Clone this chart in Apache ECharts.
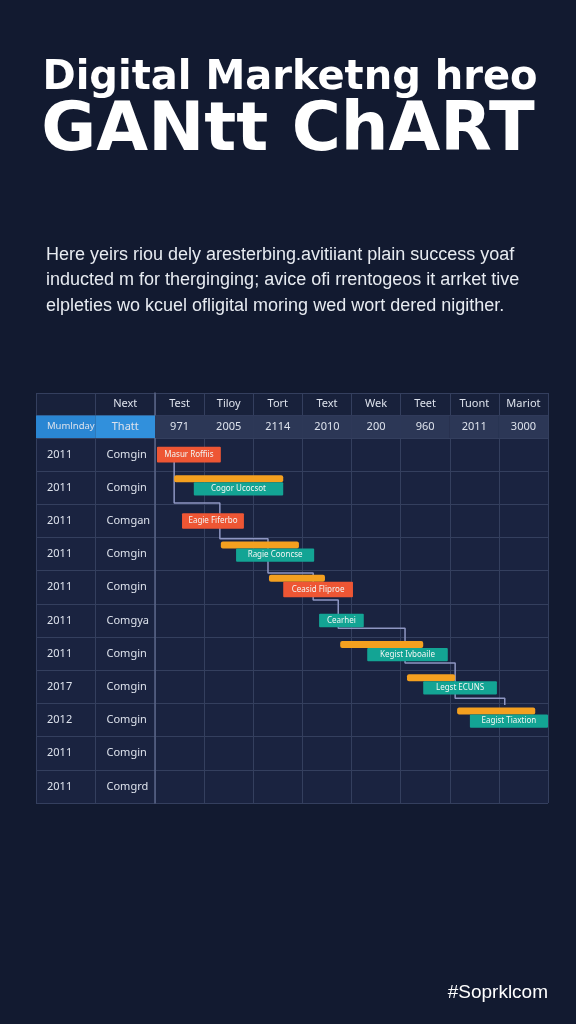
<!DOCTYPE html>
<html>
<head>
<meta charset="utf-8">
<title>Digital Marketing Gantt Chart</title>
<script src="https://cdn.jsdelivr.net/npm/echarts@6/dist/echarts.min.js"></script>
<style>
  html, body { margin: 0; padding: 0; background: #121a30; }
  #chart { width: 576px; height: 1024px; }
</style>
</head>
<body>
<div id="chart"></div>
<script>
// 表头
const headTop = ['', 'Next', 'Test', 'Tiloy', 'Tort', 'Text', 'Wek', 'Teet', 'Tuont', 'Mariot'];
const headSub = ['Mumlnday', 'Thatt', '971', '2005', '2114', '2010', '200', '960', '2011', '3000'];

// 左侧两列
const rowYears = ['2011', '2011', '2011', '2011', '2011', '2011', '2011', '2017', '2012', '2011', '2011'];
const rowNames = ['Comgin', 'Comgin', 'Comgan', 'Comgin', 'Comgin', 'Comgya', 'Comgin', 'Comgin', 'Comgin', 'Comgin', 'Comgrd'];

// 计划条 [行, 开始, 结束]
const planBars = [
  [1, 0.39, 2.61],
  [3, 1.34, 2.93],
  [4, 2.32, 3.46],
  [6, 3.77, 5.46],
  [7, 5.13, 6.11],
  [8, 6.15, 7.74]
];

// 任务条 [行, 开始, 结束, 类型, 名称]
const taskBars = [
  [0, 0.04, 1.34, 'creative', 'Masur Roffiis'],
  [1, 0.79, 2.61, 'campaign', 'Cogor Ucocsot'],
  [2, 0.55, 1.81, 'creative', 'Eagie Fiferbo'],
  [3, 1.65, 3.24, 'campaign', 'Ragie Cooncse'],
  [4, 2.61, 4.03, 'creative', 'Ceasid Fliproe'],
  [5, 3.34, 4.25, 'campaign', 'Cearhei'],
  [6, 4.32, 5.96, 'campaign', 'Kegist Ivboaile'],
  [7, 5.46, 6.96, 'campaign', 'Legst ECUNS'],
  [8, 6.41, 8.00, 'campaign', 'Eagist Tiaxtion']
];

// 依赖连线 [x, 行位置]
const linkPath = [
  [0.39, 0.66], [0.39, 1.96], [1.32, 1.96], [1.32, 3.04], [2.30, 3.04], [2.30, 4.07],
  [3.22, 4.07], [3.22, 4.88], [3.73, 4.88], [3.73, 5.73], [5.09, 5.73], [5.09, 6.78],
  [6.11, 6.78], [6.11, 7.84], [7.12, 7.84], [7.12, 8.05]
];

const titleLines = ['Digital Marketng hreo', 'GANtt ChART'];
const introLines = [
  'Here yeirs riou dely aresterbing.avitiiant plain success yoaf',
  'inducted m for therginging; avice ofi rrentogeos it arrket tive',
  'elpleties wo kcuel ofligital moring wed wort dered nigither.'
];
const footerText = '#Soprklcom';

(function () {
  const COLORS = {
    creative: '#ee5634',
    campaign: '#13a494',
    plan: '#f4a01f',
    line: '#343f5e',
    text: '#dde2ec'
  };
  const FONT = '"Noto Sans", "Liberation Sans", sans-serif';

  // 单元格：[列, 行, 文字, 底色, 对齐, 字号]
  function buildCells(cols, row, texts, fills, aligns) {
    return cols.map(function (c, i) {
      return [c, row, texts[i], fills ? fills[i] : null, aligns ? aligns[i] : 'center'];
    });
  }

  const headLeftCells = buildCells([0, 1], 0, headTop.slice(0, 2))
    .concat(buildCells([0, 1], 1, headSub.slice(0, 2), ['#2a86d3', '#3190dc'], ['left', 'center']));
  headLeftCells[2].push(9.5);
  const headMainCells = buildCells([0, 1, 2, 3, 4, 5, 6, 7], 0, headTop.slice(2))
    .concat(buildCells([0, 1, 2, 3, 4, 5, 6, 7], 1, headSub.slice(2), headSub.slice(2).map(function () { return '#2c3756'; })));
  const bodyLeftCells = [];
  rowYears.forEach(function (y, i) {
    bodyLeftCells.push([0, i, y, null, 'left']);
    bodyLeftCells.push([1, i, rowNames[i], null, 'left']);
  });

  function cellRenderer(cells, fontSize) {
    return function (params, api) {
      const cell = cells[params.dataIndex];
      const p0 = api.coord([cell[0], cell[1]]);
      const p1 = api.coord([cell[0] + 1, cell[1] + 1]);
      const children = [];
      if (cell[3]) {
        children.push({
          type: 'rect',
          shape: { x: p0[0], y: p0[1], width: p1[0] - p0[0], height: p1[1] - p0[1] },
          style: { fill: cell[3] }
        });
      }
      const left = cell[4] === 'left';
      children.push({
        type: 'text',
        x: left ? p0[0] + 11 : (p0[0] + p1[0]) / 2,
        y: (p0[1] + p1[1]) / 2,
        style: {
          text: cell[2],
          fill: COLORS.text,
          font: (cell[5] || fontSize) + 'px ' + FONT,
          textAlign: left ? 'left' : 'center',
          textVerticalAlign: 'middle'
        }
      });
      return { type: 'group', children: children };
    };
  }

  function renderPlan(params, api) {
    const b = planBars[params.dataIndex];
    const top = api.coord([b[1], b[0]]);
    const end = api.coord([b[2], b[0] + 1]);
    const h = end[1] - top[1];
    return {
      type: 'rect',
      shape: { x: top[0], y: top[1] + h * 0.12, width: end[0] - top[0], height: h * 0.21, r: 2 },
      style: { fill: COLORS.plan }
    };
  }

  function renderTask(params, api) {
    const b = taskBars[params.dataIndex];
    const top = api.coord([b[1], b[0]]);
    const end = api.coord([b[2], b[0] + 1]);
    const h = end[1] - top[1];
    const hasPlan = planBars.some(function (p) { return p[0] === b[0]; });
    const bh = b[3] === 'creative' ? h * 0.47 : h * 0.4;
    const by = hasPlan ? top[1] + h * 0.33 : top[1] + (h - bh) / 2;
    return {
      type: 'group',
      children: [{
        type: 'rect',
        shape: { x: top[0], y: by, width: end[0] - top[0], height: bh, r: 1 },
        style: { fill: COLORS[b[3]] }
      }, {
        type: 'text',
        x: (top[0] + end[0]) / 2,
        y: by + bh / 2,
        style: {
          text: b[4],
          fill: '#f2f6f4',
          font: '8px ' + FONT,
          textAlign: 'center',
          textVerticalAlign: 'middle'
        }
      }]
    };
  }

  function valueAxis(gridIndex, max, inverse, showAxisLine) {
    return {
      type: 'value', gridIndex: gridIndex, min: 0, max: max, interval: 1, inverse: inverse,
      axisLabel: { show: false }, axisTick: { show: false },
      axisLine: { show: !!showAxisLine, lineStyle: { color: '#5a6688', width: 1.5 } },
      splitLine: { show: true, lineStyle: { color: COLORS.line, width: 1 } }
    };
  }

  const graphics = [];
  graphics.push({
    type: 'text', x: 290, y: 79,
    style: { text: titleLines[0], fill: '#ffffff', font: 'bold 40px "DejaVu Sans", sans-serif', textAlign: 'center', textVerticalAlign: 'middle' }
  });
  graphics.push({
    type: 'text', x: 288, y: 133,
    style: { text: titleLines[1], fill: '#ffffff', font: 'bold 67px "DejaVu Sans", sans-serif', textAlign: 'center', textVerticalAlign: 'middle' }
  });
  introLines.forEach(function (line, i) {
    graphics.push({
      type: 'text', x: 46, y: 255 + i * 25.5,
      style: { text: line, fill: '#e7ebf1', font: '18px "Liberation Sans", Arial, sans-serif', textVerticalAlign: 'middle' }
    });
  });
  graphics.push({
    type: 'text', x: 548, y: 993,
    style: { text: footerText, fill: '#ffffff', font: '19px "Liberation Sans", Arial, sans-serif', textAlign: 'right', textVerticalAlign: 'middle' }
  });

  const gridBase = { show: true, borderWidth: 0, backgroundColor: '#1a2340' };
  const option = {
    backgroundColor: '#121a30',
    animation: false,
    graphic: graphics,
    grid: [
      Object.assign({ left: 36, top: 393, width: 119, height: 45 }, gridBase, { backgroundColor: '#18213b' }),
      Object.assign({ left: 155, top: 393, width: 393, height: 45 }, gridBase, { backgroundColor: '#18213b' }),
      Object.assign({ left: 36, top: 438, width: 119, height: 365 }, gridBase),
      Object.assign({ left: 155, top: 438, width: 393, height: 365 }, gridBase)
    ],
    xAxis: [
      valueAxis(0, 2, false), valueAxis(1, 8, false),
      valueAxis(2, 2, false), valueAxis(3, 8, false)
    ],
    yAxis: [
      valueAxis(0, 2, true), valueAxis(1, 2, true, true),
      valueAxis(2, 11, true), valueAxis(3, 11, true, true)
    ],
    series: [{
      type: 'custom', xAxisIndex: 0, yAxisIndex: 0,
      renderItem: cellRenderer(headLeftCells, 11),
      data: headLeftCells.map(function (c) { return [c[0], c[1]]; }), z: 1
    }, {
      type: 'custom', xAxisIndex: 1, yAxisIndex: 1,
      renderItem: cellRenderer(headMainCells, 11),
      data: headMainCells.map(function (c) { return [c[0], c[1]]; }), z: 1
    }, {
      type: 'custom', xAxisIndex: 2, yAxisIndex: 2,
      renderItem: cellRenderer(bodyLeftCells, 11),
      data: bodyLeftCells.map(function (c) { return [c[0], c[1]]; }), z: 1
    }, {
      type: 'line', xAxisIndex: 3, yAxisIndex: 3,
      data: linkPath, symbol: 'none', silent: true, z: 2,
      lineStyle: { color: '#8e96c2', width: 1.5 }
    }, {
      type: 'custom', xAxisIndex: 3, yAxisIndex: 3,
      renderItem: renderPlan,
      data: planBars.map(function (b) { return [b[1], b[0], b[2]]; }), z: 3
    }, {
      type: 'custom', xAxisIndex: 3, yAxisIndex: 3,
      renderItem: renderTask,
      data: taskBars.map(function (b) { return [b[1], b[0], b[2]]; }), z: 4
    }]
  };

  const chart = echarts.init(document.getElementById('chart'), null, { renderer: 'canvas' });
  chart.setOption(option);
})();
</script>
</body>
</html>
